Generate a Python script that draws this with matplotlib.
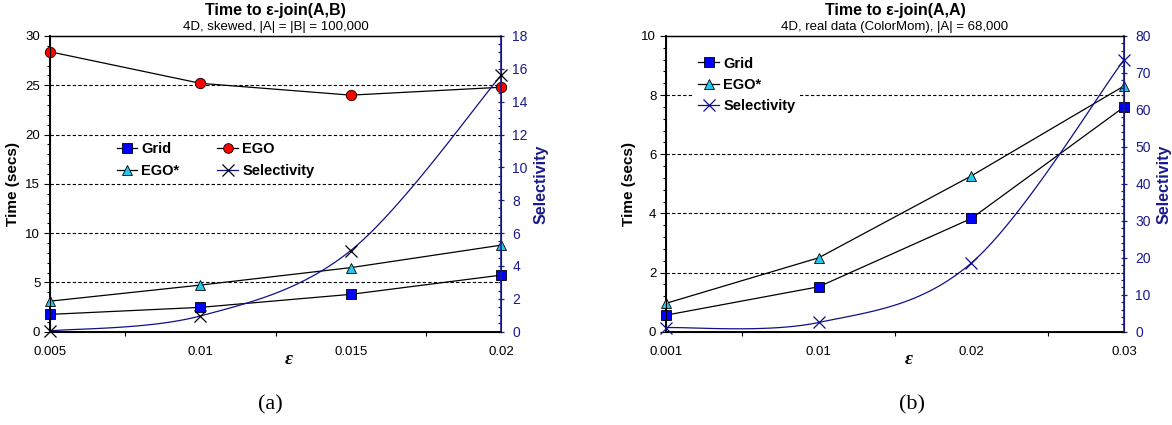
import numpy as np
import matplotlib
matplotlib.use('Agg')
import matplotlib.pyplot as plt
from matplotlib.lines import Line2D
from matplotlib.ticker import MultipleLocator, FixedLocator

plt.rcParams['font.family'] = ['Liberation Sans', 'DejaVu Sans']

# ---------- data (a) ----------
eps_a = ['0.005', '0.01', '0.015', '0.02']
grid_a = [1.76, 2.47, 3.79, 5.74]
ego_a = [28.4, 25.2, 24.0, 24.8]
egostar_a = [3.1, 4.73, 6.5, 8.78]
sel_a = [0.05, 0.96, 4.94, 15.6]

# ---------- data (b) ----------
eps_b = ['0.001', '0.01', '0.02', '0.03']
grid_b = [0.56, 1.52, 3.83, 7.6]
egostar_b = [0.96, 2.5, 5.27, 8.31]
sel_b = [1.1, 2.5, 18.6, 73.6]

NAVY = '#1a1a8c'
LINE_NAVY = '#10108a'
CYAN = '#22c8f0'


def smooth(xs, ys, n=40):
    '''Excel-style smoothed line through the data points (Bezier, tension 1/6)'''
    pts = np.column_stack([xs, ys]).astype(float)
    out = []
    for i in range(len(pts) - 1):
        p0 = pts[i - 1] if i > 0 else pts[i]
        p1 = pts[i]
        p2 = pts[i + 1]
        p3 = pts[i + 2] if i + 2 < len(pts) else pts[i + 1]
        c1 = p1 + (p2 - p0) / 6
        c2 = p2 - (p3 - p1) / 6
        t = np.linspace(0, 1, n)[:, None]
        seg = (1 - t) ** 3 * p1 + 3 * (1 - t) ** 2 * t * c1 + 3 * (1 - t) * t ** 2 * c2 + t ** 3 * p2
        out.append(seg)
    return np.vstack(out)


def style_axes(ax, ax2, labels, ymax, ystep, yminor, y2max, y2step, y2minor):
    x = np.arange(len(labels))
    ax.set_xlim(0, len(labels) - 1)
    ax.set_ylim(0, ymax)
    ax2.set_ylim(0, y2max)
    ax.set_xticks(x)
    ax.set_xticklabels(labels)
    ax.xaxis.set_minor_locator(FixedLocator(x[:-1] + 0.5))
    ax.tick_params(axis='x', which='major', length=0, pad=10, labelsize=9.5)
    ax.tick_params(axis='x', which='minor', length=3, direction='out', width=0.8)
    ax.yaxis.set_major_locator(MultipleLocator(ystep))
    ax.yaxis.set_minor_locator(MultipleLocator(yminor))
    ax.tick_params(axis='y', which='major', length=4, direction='out', pad=3, labelsize=9.5, width=0.8)
    ax.tick_params(axis='y', which='minor', length=2.5, direction='out', width=0.8)
    ax2.yaxis.set_major_locator(MultipleLocator(y2step))
    ax2.yaxis.set_minor_locator(MultipleLocator(y2minor))
    ax2.tick_params(axis='y', which='major', length=5, direction='inout', pad=5.5,
                    labelsize=10, colors=NAVY, width=0.9)
    ax2.tick_params(axis='y', which='minor', length=2.5, direction='in', colors=NAVY, width=0.9)
    # horizontal dashed grid, not at the top
    for v in np.arange(ystep, ymax - 1e-9, ystep):
        ax.axhline(v, color='black', lw=0.8, ls=(0, (3, 2)), zorder=1)
    ax.spines['left'].set_linewidth(1.4)
    ax.spines['bottom'].set_linewidth(1.4)
    ax.spines['top'].set_linewidth(1.0)
    ax2.spines['right'].set_color(NAVY)
    ax2.spines['right'].set_linewidth(1.2)
    ax.set_ylabel('Time (secs)', fontsize=11, fontweight='bold', labelpad=4)
    ax2.set_ylabel('Selectivity', fontsize=11.5, fontweight='bold', color=NAVY, labelpad=4)
    ax.text(0.53, -0.065, 'ε', transform=ax.transAxes, ha='center', va='top',
            fontsize=14, fontweight='bold', style='italic', family=['Liberation Serif', 'DejaVu Serif'])


def series(ax, vals, marker, color, ms):
    x = np.arange(len(vals))
    ax.plot(x, vals, color='black', lw=0.9, marker=marker, mfc=color, mec='black',
            mew=0.6, ms=ms, clip_on=False, zorder=3)


fig = plt.figure(figsize=(11.72, 4.25), dpi=100)

# ---------- panel (a) ----------
ax = fig.add_axes([0.0427, 0.2195, 0.3848, 0.6958])
ax2 = ax.twinx()
style_axes(ax, ax2, eps_a, 30, 5, 1, 18, 2, 0.5)
series(ax, grid_a, 's', '#0000ff', 7.5)
series(ax, ego_a, 'o', '#ff0000', 7.5)
series(ax, egostar_a, '^', CYAN, 7.5)
curve = smooth(np.arange(len(sel_a)), sel_a)
ax2.plot(curve[:, 0], curve[:, 1], color=LINE_NAVY, lw=0.9, zorder=2)
ax2.plot(np.arange(len(sel_a)), sel_a, ls='none', marker='x', color='black', ms=8,
         mew=0.9, clip_on=False, zorder=4)
ax.text(0.5, 1.085, 'Time to ε-join(A,B)', transform=ax.transAxes, ha='center', va='center',
        fontsize=11.5, fontweight='bold')
ax.text(0.5, 1.03, '4D, skewed, |A| = |B| = 100,000', transform=ax.transAxes, ha='center',
        va='center', fontsize=9.5)
handles = [
    Line2D([], [], color='black', lw=0.9, marker='s', mfc='#0000ff', mec='black', mew=0.6, ms=7),
    Line2D([], [], color='black', lw=0.9, marker='^', mfc=CYAN, mec='black', mew=0.6, ms=7),
    Line2D([], [], color='black', lw=0.9, marker='o', mfc='#ff0000', mec='black', mew=0.6, ms=7),
    Line2D([], [], color=LINE_NAVY, lw=0.9, marker='x', mec='black', mew=0.9, ms=8),
]
ax2.legend(handles, ['Grid', 'EGO*', 'EGO', 'Selectivity'], ncol=2, loc='upper left',
           bbox_to_anchor=(0.125, 0.675), frameon=False, prop={'weight': 'bold', 'size': 10.5},
           handlelength=1.4, handletextpad=0.3, columnspacing=2.6, labelspacing=0.5,
           borderpad=0.2)

# ---------- panel (b) ----------
bx = fig.add_axes([0.5683, 0.2195, 0.3908, 0.6958])
bx2 = bx.twinx()
style_axes(bx, bx2, eps_b, 10, 2, 0.4, 80, 10, 2)
series(bx, grid_b, 's', '#0000ff', 7.5)
series(bx, egostar_b, '^', CYAN, 7.5)
curve = smooth(np.arange(len(sel_b)), sel_b)
bx2.plot(curve[:, 0], curve[:, 1], color=LINE_NAVY, lw=0.9, zorder=2)
bx2.plot(np.arange(len(sel_b)), sel_b, ls='none', marker='x', color=LINE_NAVY, ms=8,
         mew=0.9, clip_on=False, zorder=4)
bx.text(0.5, 1.085, 'Time to ε-join(A,A)', transform=bx.transAxes, ha='center', va='center',
        fontsize=11.5, fontweight='bold')
bx.text(0.5, 1.03, '4D, real data (ColorMom), |A| = 68,000', transform=bx.transAxes,
        ha='center', va='center', fontsize=9.5)
handles = [
    Line2D([], [], color='black', lw=0.9, marker='s', mfc='#0000ff', mec='black', mew=0.6, ms=7),
    Line2D([], [], color='black', lw=0.9, marker='^', mfc=CYAN, mec='black', mew=0.6, ms=7),
    Line2D([], [], color=LINE_NAVY, lw=0.9, marker='x', mec=LINE_NAVY, mew=0.9, ms=8),
]
leg = bx2.legend(handles, ['Grid', 'EGO*', 'Selectivity'], loc='upper left',
                 bbox_to_anchor=(0.045, 0.97), frameon=True, prop={'weight': 'bold', 'size': 10.5},
                 handlelength=1.4, handletextpad=0.3, labelspacing=0.5, borderpad=0.3,
                 fancybox=False)
leg.get_frame().set_edgecolor('none')
leg.get_frame().set_facecolor('white')
leg.get_frame().set_alpha(1)

# captions
fig.text(0.231, 0.048, '(a)', ha='center', va='center', fontsize=16,
         family=['Liberation Serif', 'DejaVu Serif'])
fig.text(0.778, 0.048, '(b)', ha='center', va='center', fontsize=16,
         family=['Liberation Serif', 'DejaVu Serif'])

fig.savefig('out.png', dpi=100)
